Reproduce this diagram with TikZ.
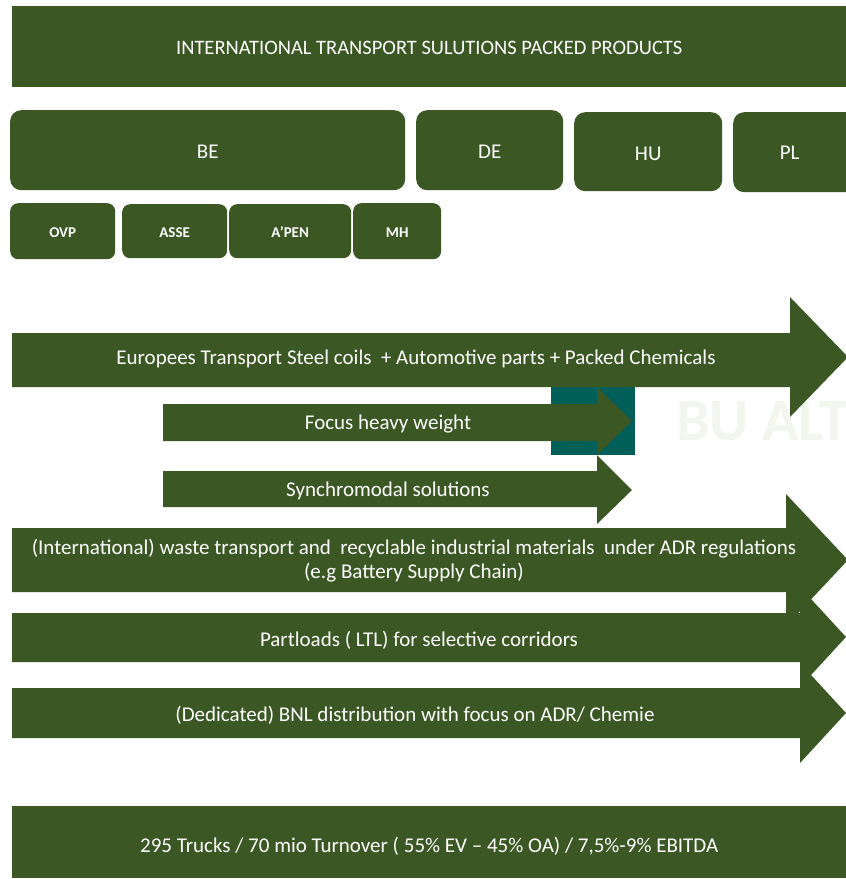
\documentclass[tikz,border=0pt]{standalone}
\usepackage{fontspec}
\setmainfont{Carlito}
\definecolor{ptgreen}{HTML}{3B5724}
\definecolor{ptteal}{HTML}{006059}
\definecolor{ptghost}{HTML}{F3F5EF}
\newcommand{\lowered}[2]{\raisebox{-#1}[\height][\depth]{#2}}
\tikzset{
    banner/.style = {fill=ptgreen, text=white, rectangle, inner sep=0pt, anchor=north west, font=\fontsize{20.5}{24}\selectfont},
    country-box/.style = {fill=ptgreen, text=white, rectangle, rounded corners=11pt, inner sep=0pt, anchor=north west, font=\fontsize{21}{24}\selectfont},
    site-box/.style = {fill=ptgreen, text=white, rectangle, rounded corners=8pt, inner sep=0pt, anchor=north west, font=\bfseries\fontsize{15}{18}\selectfont},
    arrow-shape/.style = {fill=ptgreen},
    arrow-text/.style = {text=white, align=center, inner sep=0pt, font=\fontsize{21}{24}\selectfont},
}

\begin{document}
\begin{tikzpicture}[x=1pt, y=-1pt]
\clip (0,0) rectangle (846,879);
\fill[white] (0,0) rectangle (846,879);

% header and countries
\node[banner, minimum width=834pt, minimum height=81pt] (title) at (12,6) {\lowered{1pt}{INTERNATIONAL TRANSPORT SULUTIONS PACKED PRODUCTS}};
\node[country-box, minimum width=395pt, minimum height=80pt] (be) at (10,110) {\lowered{2pt}{BE}};
\node[country-box, minimum width=147pt, minimum height=80pt] (de) at (416,110) {\lowered{2pt}{DE}};
\node[country-box, minimum width=148pt, minimum height=79pt] (hu) at (574,112) {\lowered{2pt}{HU}};
\node[country-box, minimum width=127pt, minimum height=80pt] (pl) at (733,112) {\hspace*{-2pt}\lowered{1pt}{PL}\hspace*{12pt}};

% sites in BE
\node[site-box, minimum width=105pt, minimum height=56pt] (ovp) at (10,203) {\lowered{1pt}{OVP}};
\node[site-box, minimum width=105pt, minimum height=54pt] (asse) at (122,204) {\lowered{1pt}{ASSE}};
\node[site-box, minimum width=122pt, minimum height=54pt] (apen) at (229,204) {\lowered{1pt}{A’PEN}};
\node[site-box, minimum width=88pt, minimum height=56pt] (mh) at (353,203) {\lowered{1pt}{MH}};

% activity arrows
\fill[ptteal] (551,387) rectangle (635,455);
\node[text=ptghost, anchor=west, inner sep=0pt, font=\bfseries\fontsize{60}{60}\selectfont] (bualt) at (676,421) {BU ALT};

\fill[arrow-shape] (12,333) -- (790,333) -- (790,297) -- (848,357) -- (790,417) -- (790,387) -- (12,387) -- cycle;
\node[arrow-text] (steel) at (416,359) {Europees Transport Steel coils \ + Automotive parts + Packed Chemicals};

\fill[arrow-shape] (163,404) -- (597,404) -- (597,387) -- (632,421) -- (597,455) -- (597,441) -- (163,441) -- cycle;
\node[arrow-text] (heavy) at (388,424) {Focus heavy weight};

\fill[arrow-shape] (163,471) -- (597,471) -- (597,455) -- (632,490) -- (597,524) -- (597,507) -- (163,507) -- cycle;
\node[arrow-text] (synchro) at (388,491) {Synchromodal solutions};

\fill[arrow-shape] (12,528) -- (786,528) -- (786,494) -- (848,560) -- (786,626) -- (786,592) -- (12,592) -- cycle;
\node[arrow-text] (waste) at (414,561) {(International) waste transport and \ recyclable industrial materials \ under ADR regulations\\(e.g Battery Supply Chain)};

\fill[arrow-shape] (12,613) -- (800,613) -- (800,587) -- (846,637) -- (800,687) -- (800,662) -- (12,662) -- cycle;
\node[arrow-text] (ltl) at (419,640) {Partloads ( LTL) for selective corridors};

\fill[arrow-shape] (12,688) -- (800,688) -- (800,663) -- (846,713) -- (800,763) -- (800,738) -- (12,738) -- cycle;
\node[arrow-text] (bnl) at (415,715) {(Dedicated) BNL distribution with focus on ADR/ Chemie};

% key figures
\node[banner, minimum width=834pt, minimum height=72pt, font=\fontsize{21}{24}\selectfont] (figures) at (12,806) {\lowered{4pt}{295 Trucks / 70 mio Turnover ( 55\% EV – 45\% OA) / 7,5\%-9\% EBITDA}};
\end{tikzpicture}
\end{document}
